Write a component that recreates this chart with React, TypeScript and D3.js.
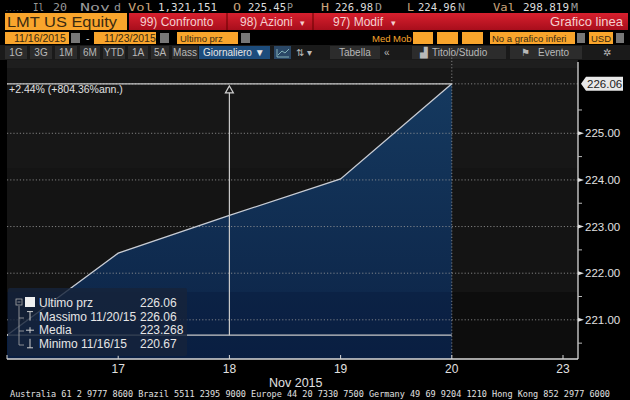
import React from "react";
import * as d3 from "d3";

const days = ["16", "17", "18", "19", "20", "23"];
const prices = [220.67, 222.43, 223.24, 224.02, 226.06];
const yTicks = [221, 222, 223, 224, 225];
const legendRows = [
  { sym: "box", label: "Ultimo prz", value: "226.06" },
  { sym: "max", label: "Massimo 11/20/15", value: "226.06" },
  { sym: "avg", label: "Media", value: "223.268" },
  { sym: "min", label: "Minimo 11/16/15", value: "220.67" },
];
const periodButtons = ["1G", "3G", "1M", "6M", "YTD", "1A", "5A", "Mass"];

const W = 630, H = 400;
const x = d3.scaleLinear().domain([0, 5]).range([7, 563]);
const y = d3.scaleLinear().domain([220.16, 226.4]).range([359, 68]);
const PL = 7, PR = 578, PT = 68, PB = 359;

export default function App() {
  const pts = prices.map((p, i) => [x(i), y(p)] as [number, number]);
  const line = d3.line()(pts) || "";
  const area = d3.area<[number, number]>().x(d => d[0]).y0(PB).y1(d => d[1])(pts) || "";
  const last = prices[prices.length - 1];
  const minV = d3.min(prices)!;
  const mono = "'DejaVu Sans Mono', 'Liberation Mono', monospace";
  const sans = "'Liberation Sans', Arial, sans-serif";
  const tan = "#c9a27a";
  const orange = "#f9a52c";
  const btnX = [5, 30, 55, 80, 103, 128, 151, 172];
  const btnW = [22, 22, 22, 20, 22, 20, 18, 26];
  const hdr = [
    { t: "Il", x: 33, w: 11, c: "#999" },
    { t: "20", x: 53, w: 14, c: "#999" },
    { t: "Nov", x: 80, w: 30, c: "#999" },
    { t: "d", x: 114, w: 7, c: "#999" },
    { t: "Vol", x: 128, w: 25, c: tan },
    { t: "1,321,151", x: 158, w: 59, c: "#ddd" },
    { t: "O", x: 233, w: 8, c: tan },
    { t: "225.45", x: 248, w: 38, c: "#ddd" },
    { t: "P", x: 287, w: 6, c: "#999" },
    { t: "H", x: 321, w: 8, c: tan },
    { t: "226.98", x: 335, w: 38, c: "#ddd" },
    { t: "D", x: 375, w: 7, c: "#999" },
    { t: "L", x: 407, w: 7, c: tan },
    { t: "224.96", x: 418, w: 38, c: "#ddd" },
    { t: "N", x: 458, w: 7, c: "#999" },
    { t: "Val", x: 493, w: 22, c: tan },
    { t: "298.819", x: 523, w: 46, c: "#ddd" },
    { t: "M", x: 571, w: 7, c: "#999" },
  ];
  return (
    <svg width={W} height={H} style={{ position: "absolute", left: 0, top: 0, background: "#000" }}>
      <defs>
        <linearGradient id="fillg" x1="0" y1="0" x2="0" y2="1">
          <stop offset="0" stopColor="#15395f" />
          <stop offset="1" stopColor="#0c2346" />
        </linearGradient>
        <linearGradient id="redg" x1="0" y1="0" x2="0" y2="1">
          <stop offset="0" stopColor="#d8202e" />
          <stop offset="1" stopColor="#a80e1c" />
        </linearGradient>
      </defs>
      <rect width={W} height={H} fill="#000" />
      {/* header row 1 */}
      <text x={5} y={11} fontFamily={mono} fontSize={6} fill="#777">.....</text>
      <g fontFamily={mono} fontSize={11}>
        {hdr.map((h, i) => (
          <text key={i} x={h.x} y={11} fill={h.c} textLength={h.w} lengthAdjust="spacingAndGlyphs">{h.t}</text>
        ))}
      </g>
      {/* header row 2 */}
      <rect x={5} y={13} width={122} height={17} fill={orange} />
      <text x={7} y={26.5} fontFamily={sans} fontSize={14} fill="#3a2a10" textLength={110} lengthAdjust="spacingAndGlyphs">LMT US Equity</text>
      <rect x={129} y={13} width={499} height={17} fill="url(#redg)" />
      <line x1={227} y1={13} x2={227} y2={30} stroke="#600" />
      <line x1={313} y1={13} x2={313} y2={30} stroke="#600" />
      <g fontFamily={sans} fontSize={12} fill="#f4d0d0">
        <text x={140} y={26}>99) Confronto</text>
        <text x={240} y={26}>98) Azioni</text>
        <text x={300} y={26} fontSize={9}>▾</text>
        <text x={333} y={26}>97) Modif</text>
        <text x={391} y={26} fontSize={9}>▾</text>
        <text x={623} y={26} textAnchor="end" fontSize={13}>Grafico linea</text>
      </g>
      {/* header row 3 */}
      <g fontFamily={sans} fontSize={10.5}>
        <rect x={5} y={32} width={64} height={12} fill={orange} />
        <text x={14} y={42} fill="#3a2a10">11/16/2015</text>
        <rect x={71} y={33} width={9} height={10} fill="#777" />
        <text x={86} y={42} fill="#ccc">-</text>
        <rect x={94} y={32} width={62} height={12} fill={orange} />
        <text x={104} y={42} fill="#3a2a10">11/23/2015</text>
        <rect x={160} y={33} width={9} height={10} fill="#777" />
        <rect x={177} y={32} width={61} height={12} fill={orange} />
        <text x={180} y={42} fill="#3a2a10" fontSize={9.5}>Ultimo prz</text>
        <rect x={241} y={33} width={9} height={10} fill="#777" />
        <text x={372} y={42} fill={orange} fontSize={9.5}>Med Mob</text>
        <rect x={413} y={32} width={20} height={12} fill={orange} />
        <rect x={437} y={32} width={21} height={12} fill={orange} />
        <rect x={462} y={32} width={21} height={12} fill={orange} />
        <rect x={490} y={32} width={85} height={12} fill={orange} />
        <text x={492} y={42} fill="#3a2a10" fontSize={9.5}>No a grafico inferi</text>
        <rect x={577} y={33} width={8} height={10} fill="#777" />
        <rect x={589} y={32} width={24} height={12} fill={orange} />
        <text x={591} y={42} fill="#3a2a10" fontSize={9.5}>USD</text>
        <rect x={616} y={33} width={8} height={10} fill="#777" />
      </g>
      {/* header row 4 */}
      <rect x={0} y={45} width={W} height={15} fill="#1a1a1a" />
      <g fontFamily={sans} fontSize={10} fill="#b8b8b8">
        {periodButtons.map((b, i) => (
          <g key={b}>
            <rect x={btnX[i]} y={46} width={btnW[i]} height={13} fill="#2c2c2c" />
            <text x={btnX[i] + btnW[i] / 2} y={56} textAnchor="middle">{b}</text>
          </g>
        ))}
        <rect x={199} y={46} width={71} height={13} fill="#1d4c7c" />
        <text x={203} y={56} fill="#e6e6e6">Giornaliero ▼</text>
        <rect x={274} y={46} width={17} height={13} fill="#2a4766" />
        <path d="M277,57 L277,49 M277,57 L289,57 M278,55 L282,51 L285,53 L289,49" stroke="#9cc" fill="none" strokeWidth={0.8} />
        <text x={296} y={56}>⇅ ▾</text>
        <rect x={330} y={46} width={50} height={13} fill="#2c2c2c" />
        <text x={339} y={56}>Tabella</text>
        <text x={384} y={56}>«</text>
        <rect x={412} y={46} width={94} height={13} fill="#2c2c2c" />
        <text x={420} y={56}>▟</text>
        <text x={432} y={56}>Titolo/Studio</text>
        <rect x={510} y={46} width={72} height={13} fill="#2c2c2c" />
        <text x={521} y={56}>⚑</text>
        <text x={538} y={56}>Evento</text>
        <text x={603} y={56}>✲</text>
      </g>
      {/* plot background bands */}
      <rect x={PL} y={60} width={PR - PL} height={8} fill="#1e1e1e" />
      <rect x={PL} y={PT} width={PR - PL} height={100} fill="#171717" />
      <rect x={PL} y={168} width={PR - PL} height={124} fill="#141414" />
      <rect x={PL} y={292} width={PR - PL} height={PB - 292} fill="#0d0d0d" />
      {/* area fill */}
      <path d={area} fill="url(#fillg)" />
      <rect x={PL} y={292} width={x(4) - PL} height={PB - 292} fill="#06183a" opacity={0.35} />
      {/* gridlines */}
      {[...yTicks, last].map(t => (
        <line key={t} x1={PL} x2={PR} y1={y(t)} y2={y(t)} stroke="#9a9a9a" strokeWidth={0.8} strokeDasharray="1.2,2" />
      ))}
      <line x1={x(4)} x2={x(4)} y1={48} y2={PB} stroke="#9a9a9a" strokeWidth={0.8} strokeDasharray="1.2,2" />
      {/* data line */}
      <path d={line} fill="none" stroke="#c8ccd4" strokeWidth={1.3} />
      {/* measurement lines */}
      <line x1={PL} x2={x(4)} y1={y(last)} y2={y(last)} stroke="#c8c8c8" strokeWidth={1.2} />
      <line x1={PL} x2={x(4)} y1={y(minV)} y2={y(minV)} stroke="#c8c8c8" strokeWidth={1.2} />
      <line x1={x(2)} x2={x(2)} y1={y(last) + 9} y2={y(minV)} stroke="#c8c8c8" strokeWidth={1.2} />
      <path d={`M${x(2)},${y(last) + 2} L${x(2) - 4},${y(last) + 9} L${x(2) + 4},${y(last) + 9} Z`} fill="none" stroke="#d0d0d0" strokeWidth={1.2} />
      <text x={9} y={y(last) + 9} fontFamily={sans} fontSize={10.5} fill="#e0e0e0">+2.44% (+804.36%ann.)</text>
      {/* left black strip */}
      <rect x={0} y={60} width={PL} height={PB - 60} fill="#000" />
      {/* right axis */}
      <line x1={PR} x2={PR} y1={62} y2={PB} stroke="#d8d8d8" strokeWidth={1.3} />
      {d3.range(220.5, 226.5, 0.5).filter(v => !Number.isInteger(v) && y(v) > PT && y(v) < PB).map(v => (
        <line key={v} x1={PR} x2={PR + 4} y1={y(v)} y2={y(v)} stroke="#bbb" />
      ))}
      {yTicks.map(t => (
        <g key={t}>
          <path d={`M${PR},${y(t) - 2} L${PR + 6},${y(t)} L${PR},${y(t) + 2} Z`} fill="#ddd" />
          <text x={PR + 7} y={y(t) + 4} fontFamily={sans} fontSize={11.5} fill="#e0e0e0">{t.toFixed(2)}</text>
        </g>
      ))}
      <path d={`M${PR + 3},${y(last)} L${PR + 8},${y(last) - 7} L${PR + 45},${y(last) - 7} L${PR + 45},${y(last) + 7} L${PR + 8},${y(last) + 7} Z`} fill="#e8e8e8" />
      <text x={PR + 9} y={y(last) + 4} fontFamily={sans} fontSize={11.5} fill="#222">{last.toFixed(2)}</text>
      {/* bottom axis */}
      <line x1={PL} x2={PR} y1={PB} y2={PB} stroke="#d8d8d8" strokeWidth={1.3} />
      <line x1={PL} x2={PL} y1={PB - 4} y2={PB} stroke="#d8d8d8" />
      {days.map((d, i) => (
        i === 0 ? null : (
          <g key={d}>
            <line x1={x(i)} x2={x(i)} y1={PB - 4} y2={PB} stroke="#d8d8d8" />
            <text x={x(i)} y={PB + 14} textAnchor="middle" fontFamily={sans} fontSize={12} fill="#e0e0e0">{d}</text>
          </g>
        )
      ))}
      <text x={269} y={PB + 28} fontFamily={sans} fontSize={12.5} fill="#e0e0e0">Nov 2015</text>
      {/* legend */}
      <rect x={8} y={288} width={179} height={68} rx={2} fill="#16233a" opacity={0.82} />
      <path d="M19,306 L19,345 L24,345 M19,318 L24,318 M19,331 L24,331" stroke="#aaa" fill="none" strokeWidth={0.8} />
      <rect x={16} y={299} width={6} height={6} fill="none" stroke="#aaa" strokeWidth={0.8} />
      <line x1={17.5} x2={20.5} y1={302} y2={302} stroke="#aaa" strokeWidth={0.8} />
      <g fontFamily={sans} fontSize={12} fill="#e6e6e6">
        {legendRows.map((r, i) => {
          const yy = 307 + i * 13.6;
          return (
            <g key={r.label}>
              {r.sym === "box" && <rect x={25} y={yy - 10} width={10} height={10} fill="#f0f0f0" />}
              {r.sym === "max" && <path d={`M27,${yy - 9} L33,${yy - 9} M30,${yy - 9} L30,${yy}`} stroke="#ccc" strokeWidth={1} />}
              {r.sym === "avg" && <path d={`M26,${yy - 4} L34,${yy - 4} M30,${yy - 7} L30,${yy - 1}`} stroke="#ccc" strokeWidth={1} />}
              {r.sym === "min" && <path d={`M27,${yy} L33,${yy} M30,${yy - 9} L30,${yy}`} stroke="#ccc" strokeWidth={1} />}
              <text x={39} y={yy}>{r.label}</text>
              <text x={140} y={yy}>{r.value}</text>
            </g>
          );
        })}
      </g>
      {/* footer */}
      <text x={10} y={397} fontFamily={mono} fontSize={8} fill="#e0e0e0" textLength={600} lengthAdjust="spacingAndGlyphs">Australia 61 2 9777 8600 Brazil 5511 2395 9000 Europe 44 20 7330 7500 Germany 49 69 9204 1210 Hong Kong 852 2977 6000</text>
    </svg>
  );
}
